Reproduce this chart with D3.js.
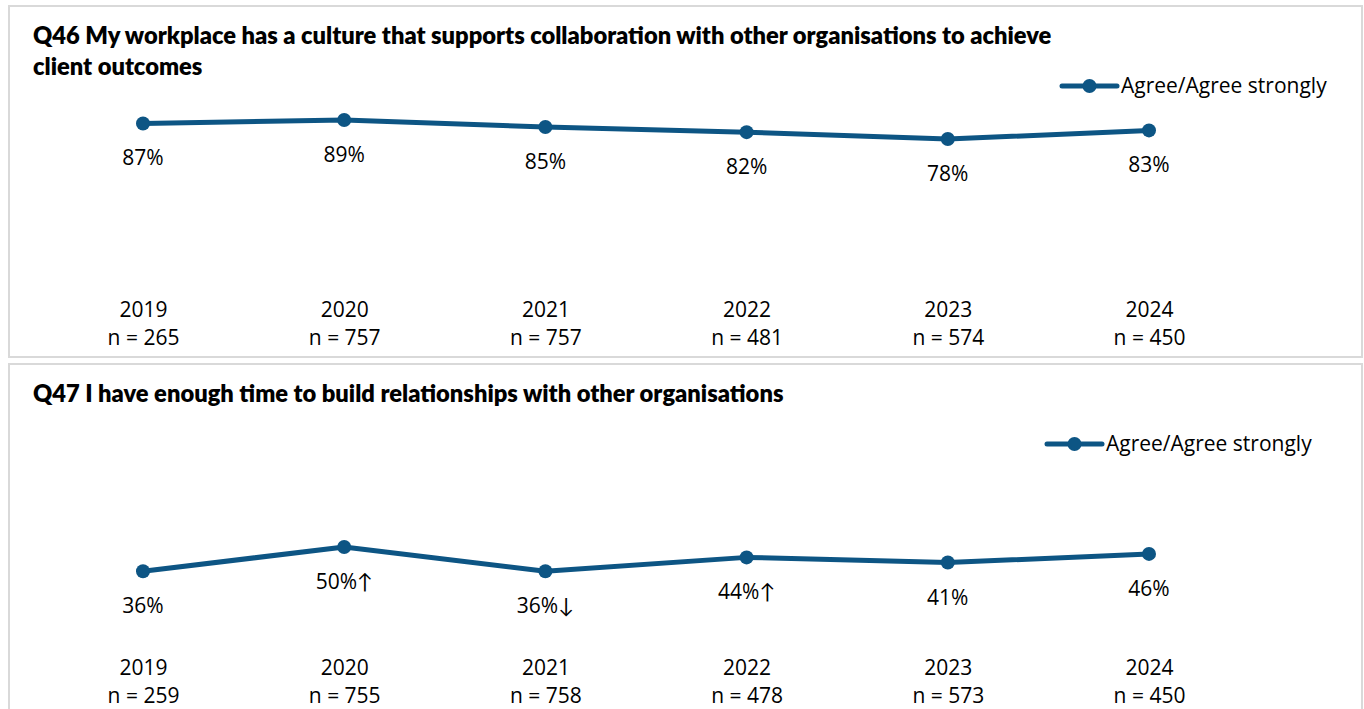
<!DOCTYPE html>
<html><head><meta charset="utf-8">
<script src="https://cdn.jsdelivr.net/npm/d3@7"></script>
<style>
html,body{margin:0;padding:0;background:#fff;}
svg text{font-family:"Open Sans",Lato,sans-serif;fill:#000;}
</style></head>
<body>
<svg id="chart" width="1364" height="709"></svg>
<script>
const years = ["2019","2020","2021","2022","2023","2024"];
const q46Values = [87,89,85,82,78,83];
const q46Arrows = ["","","","","",""];
const q46N = [265,757,757,481,574,450];
const q47Values = [36,50,36,44,41,46];
const q47Arrows = ["","↑","↓","↑","",""];
const q47N = [259,755,758,478,573,450];
const seriesName = "Agree/Agree strongly";

const panels = [
  {top:6, yShift:0, title:["Q46 My workplace has a culture that supports collaboration with other organisations to achieve","client outcomes"], titleW:1019, values:q46Values, arrows:q46Arrows, n:q46N, legendX:1062},
  {top:364, yShift:1.5, title:["Q47 I have enough time to build relationships with other organisations"], titleW:751, values:q47Values, arrows:q47Arrows, n:q47N, legendX:1047}
];

const color = "#0d5584";
const svg = d3.select("#chart");
const x = d3.scalePoint().domain(years).range([143,1149]);

// fit regular font size so legend text width matches reference (~207px)
const probe = svg.append("text").attr("font-size",20).text(seriesName);
const FS = Math.min(21, 20 * 207 / probe.node().getComputedTextLength());
probe.remove();

panels.forEach(p => {
  const g = svg.append("g").attr("transform", `translate(0,${p.top})`);
  g.append("rect").attr("x",9).attr("y",0).attr("width",1353).attr("height",351)
    .attr("fill","#fff").attr("stroke","#d9d9d9").attr("stroke-width",2);

  // title
  const tts = p.title.map((t,i) => g.append("text").attr("x",33).attr("y",38 + i*31)
      .attr("font-weight",800).attr("font-size",20)
      .style("font-family","Lato, 'Open Sans', sans-serif").text(t));
  const w = tts[0].node().getComputedTextLength();
  tts.forEach(t => t.attr("font-size", 20 * p.titleW / w));

  const y = d3.scaleLinear().domain([0,100]).range([268 + p.yShift, 95 + p.yShift]);

  // legend
  const lg = g.append("g").attr("transform",`translate(${p.legendX},80)`);
  lg.append("line").attr("x1",0).attr("x2",55).attr("y1",0).attr("y2",0)
    .attr("stroke",color).attr("stroke-width",5).attr("stroke-linecap","round");
  lg.append("circle").attr("cx",27.5).attr("cy",0).attr("r",7).attr("fill",color);
  lg.append("text").attr("x",59).attr("y",7).attr("font-size",FS).text(seriesName);

  // x axis (category labels)
  const ax = g.append("g").attr("transform","translate(0,311)")
    .call(d3.axisBottom(x).tickSize(0).tickPadding(0));
  ax.select(".domain").remove();
  ax.selectAll("text").attr("font-size",FS).attr("font-family","'Open Sans', Lato, sans-serif")
    .attr("fill","#000").attr("dy","0").attr("y",0);
  ax.selectAll(".tick").append("text").attr("y",28).attr("text-anchor","middle")
    .attr("font-size",FS).attr("fill","#000")
    .text((d,i) => "n = " + p.n[i]);

  const data = years.map((yr,i) => ({yr, v:p.values[i], a:p.arrows[i]}));
  g.append("path").datum(data)
    .attr("fill","none").attr("stroke",color).attr("stroke-width",5)
    .attr("stroke-linejoin","round")
    .attr("d", d3.line().x(d=>x(d.yr)).y(d=>y(d.v)));
  g.selectAll("circle.pt").data(data).join("circle").attr("class","pt")
    .attr("cx",d=>x(d.yr)).attr("cy",d=>y(d.v)).attr("r",7).attr("fill",color);
  g.selectAll("text.lbl").data(data).join("text").attr("class","lbl")
    .attr("x",d=>x(d.yr)).attr("y",d=>y(d.v)+42).attr("text-anchor","middle")
    .attr("font-size",FS).text(d => d.v + "%" + d.a);
});
</script>
</body></html>
